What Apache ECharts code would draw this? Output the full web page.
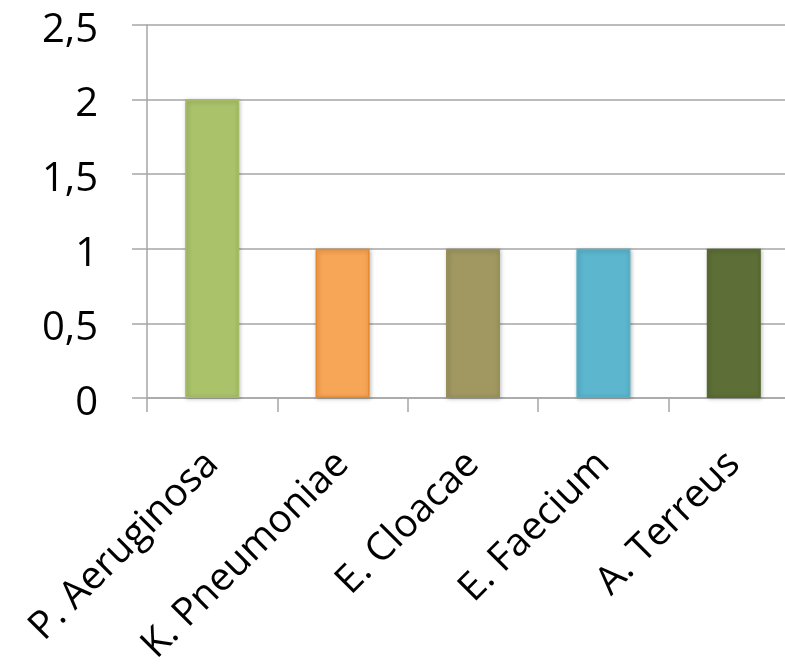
<!DOCTYPE html>
<html>
<head>
<meta charset="utf-8">
<script src="https://cdn.jsdelivr.net/npm/echarts@6/dist/echarts.min.js"></script>
<style>
  html, body { margin: 0; padding: 0; background: #fff; }
  #chart { width: 785px; height: 665px; }
</style>
</head>
<body>
<div id="chart"></div>
<script>
// Organisms and their counts
const categories = ['P. Aeruginosa', 'K. Pneumoniae', 'E. Cloacae', 'E. Faecium', 'A. Terreus'];
const counts = [2, 1, 1, 1, 1];
const barColors = ['#AAC26A', '#F7A556', '#A09860', '#5BB6CE', '#5D6F36'];
const barBorders = ['#A4BC64', '#E8882A', '#979058', '#55B0C8', '#56682F'];
const yTicks = { min: 0, max: 2.5, interval: 0.5 };

const chart = echarts.init(document.getElementById('chart'));

const gridColor = '#A6A6A6';
const font = '"Open Sans", sans-serif';

chart.setOption({
  animation: false,
  grid: {
    left: 147, top: 25, right: -14, bottom: 267,
    containLabel: false,
    outerBoundsMode: 'none'
  },
  xAxis: {
    type: 'category',
    data: categories,
    boundaryGap: true,
    axisLine: { show: true, lineStyle: { color: gridColor, width: 1.5 } },
    axisTick: { show: true, length: 14, lineStyle: { color: gridColor, width: 1.5 } },
    axisLabel: {
      interval: 0,
      rotate: 45,
      margin: 60,
      color: '#000',
      fontFamily: font,
      fontSize: 39
    }
  },
  yAxis: {
    type: 'value',
    min: yTicks.min,
    max: yTicks.max,
    interval: yTicks.interval,
    axisLine: { show: true, lineStyle: { color: gridColor, width: 1.5 } },
    axisTick: { show: true, length: 15, lineStyle: { color: gridColor, width: 1.5 } },
    splitLine: { show: true, lineStyle: { color: gridColor, width: 1.5 } },
    axisLabel: {
      margin: 49,
      color: '#000',
      fontFamily: font,
      fontSize: 40,
      verticalAlign: 'top',
      lineHeight: 11,
      formatter: v => String(v).replace('.', ',')
    }
  },
  series: [{
    type: 'bar',
    barWidth: 54,
    data: counts.map((v, i) => ({
      value: v,
      itemStyle: {
        color: barColors[i],
        borderColor: barBorders[i],
        borderWidth: 1.5,
        shadowBlur: 4,
        shadowColor: 'rgba(0,0,0,0.25)',
        shadowOffsetX: 1,
        shadowOffsetY: 1
      }
    }))
  }]
});
</script>
</body>
</html>
